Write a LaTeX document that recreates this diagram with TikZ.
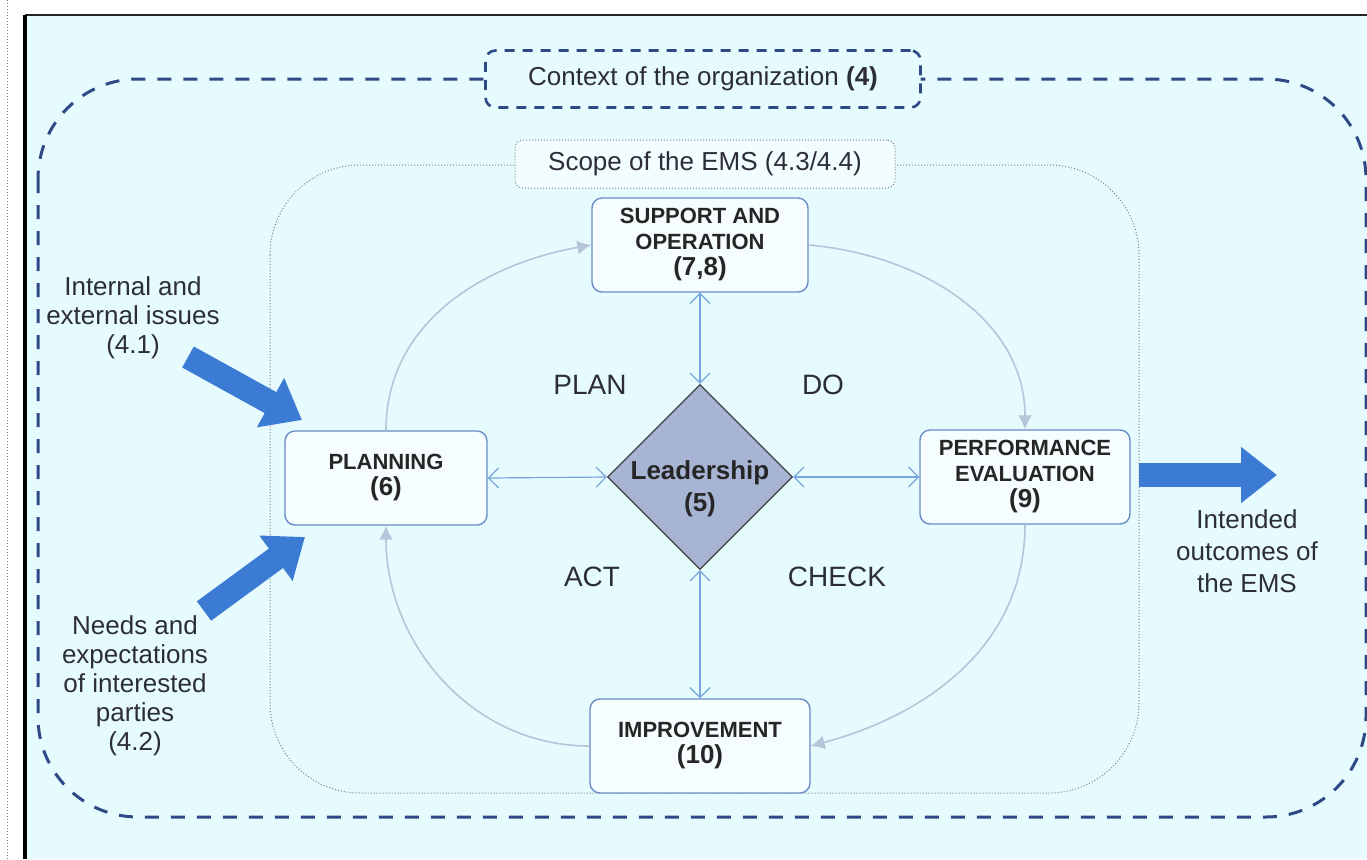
\documentclass[tikz,border=0pt]{standalone}
\usepackage{fontspec}
\setmainfont{Liberation Sans}
\usepackage{xcolor}
\usepackage{tikz}
\usetikzlibrary{shapes.geometric, arrows.meta, positioning, calc}
\definecolor{bgcyan}{RGB}{230,251,254}
\definecolor{ctxblue}{RGB}{46,74,134}
\definecolor{boxblue}{RGB}{106,140,200}
\definecolor{leadfill}{RGB}{168,180,212}
\definecolor{cyclegray}{RGB}{184,196,218}
\definecolor{linkblue}{RGB}{120,165,220}
\definecolor{bigblue}{RGB}{59,123,212}
\definecolor{txtgray}{RGB}{45,45,58}
\tikzset{
    clause/.style={rectangle, draw=boxblue, line width=0.7pt, fill=bgcyan!40!white, rounded corners=5pt, minimum width=108pt, minimum height=47pt, align=center, text=black!85, font=\fontsize{11}{13}\selectfont\bfseries, inner sep=1pt},
    leader/.style={diamond, draw=black!75, line width=0.6pt, fill=leadfill, minimum width=92.5pt, minimum height=92.5pt, inner sep=0pt},
    leadtext/.style={align=center, yshift=-6pt, text=black!85, font=\fontsize{13}{16}\selectfont\bfseries},
    pdca/.style={font=\fontsize{14}{16}\selectfont, text=txtgray},
    inlabel/.style={align=center, text=txtgray, font=\fontsize{13}{14.5}\selectfont},
    contextbox/.style={rectangle, draw=ctxblue, line width=1.3pt, dash pattern=on 5pt off 4pt, rounded corners=5pt, fill=bgcyan, minimum width=217.5pt, minimum height=28.5pt, text=txtgray, font=\fontsize{13}{15}\selectfont},
    scopebox/.style={rectangle, draw=gray, line width=0.5pt, densely dotted, rounded corners=4pt, fill=bgcyan!50!white, minimum width=190pt, minimum height=24pt, text=txtgray, font=\fontsize{13}{15}\selectfont},
    cycle/.style={draw=cyclegray, line width=0.8pt, -{Latex[length=7pt, width=7pt]}},
    link/.style={draw=linkblue, line width=0.6pt, {Straight Barb[length=5pt, width=10pt]}-{Straight Barb[length=5pt, width=10pt]}},
    bigarrow/.style={draw=bigblue, line width=12pt, -{Triangle[length=18pt, width=27pt]}},
}

\begin{document}
\begin{tikzpicture}[x=0.5pt, y=0.5pt]
    \useasboundingbox (0,0) rectangle (1367,-859);

    % page frame
    \draw[gray, densely dotted, line width=0.5pt] (7,0) -- (7,-859);
    \fill[bgcyan] (25,-15) rectangle (1367,-859);
    \draw[black!85, line width=1pt] (25,-15) -- (1367,-15);
    \draw[black, line width=1.6pt] (25,-15) -- (25,-859);

    % context and scope outlines
    \draw[ctxblue, line width=1.5pt, dash pattern=on 7pt off 6pt, rounded corners=50pt] (38,-79) rectangle (1366,-817);
    \draw[gray, line width=0.5pt, densely dotted, rounded corners=45pt] (270,-165) rectangle (1139,-793);

    \node[contextbox] (context) at (703,-79) {Context of the organization \textbf{(4)}};
    \node[scopebox] (scope) at (705,-164) {Scope of the EMS (4.3/4.4)};

    % PDCA boxes
    \node[leader, label={[leadtext]center:Leadership\\(5)}] (lead) at (700,-477) {};
    \node[clause] (supp) at (700,-245) {SUPPORT AND\\OPERATION\\{\fontsize{13}{13}\selectfont (7,8)}};
    \node[clause, minimum width=101pt] (plan) at (386,-478) {PLANNING\\{\fontsize{13}{13}\selectfont (6)}};
    \node[clause, minimum width=105pt] (perf) at (1025,-477) {PERFORMANCE\\EVALUATION\\{\fontsize{13}{13}\selectfont (9)}};
    \node[clause, minimum width=110pt] (impr) at (700,-746) {IMPROVEMENT\\{\fontsize{13}{13}\selectfont (10)}};

    \node[pdca] (planlbl) at (590,-385) {PLAN};
    \node[pdca] (dolbl) at (823,-385) {DO};
    \node[pdca] (actlbl) at (592,-577) {ACT};
    \node[pdca] (checklbl) at (837,-577) {CHECK};

    % links to leadership
    \draw[link] (supp.south) -- (lead.north);
    \draw[link] (plan.east) -- (lead.west);
    \draw[link] (lead.east) -- (perf.west);
    \draw[link] (lead.south) -- (impr.north);

    % cycle
    \draw[cycle] (plan.north) to[out=90, in=190] (supp.west);
    \draw[cycle] (supp.east) to[out=-5, in=90] (perf.north);
    \draw[cycle] (perf.south) to[out=-90, in=15] (impr.east);
    \draw[cycle] (impr.west) to[out=180, in=-90] (plan.south);

    % inputs and outputs
    \node[inlabel] (issues) at (133,-318) {Internal and\\external issues\\(4.1)};
    \node[inlabel] (needs) at (135,-686) {Needs and\\expectations\\of interested\\parties\\(4.2)};
    \node[inlabel, font=\fontsize{13}{16}\selectfont] (outcomes) at (1247,-551) {Intended\\outcomes of\\the EMS};

    \coordinate (issuestail) at (188,-357);
    \coordinate (issuestip) at (302,-420);
    \coordinate (needstail) at (204,-611);
    \coordinate (needstip) at (305,-537);
    \coordinate (outtail) at (1139,-475);
    \coordinate (outtip) at (1277,-475);
    \draw[bigarrow] (issuestail) -- (issuestip);
    \draw[bigarrow] (needstail) -- (needstip);
    \draw[bigarrow] (outtail) -- (outtip);
\end{tikzpicture}
\end{document}
